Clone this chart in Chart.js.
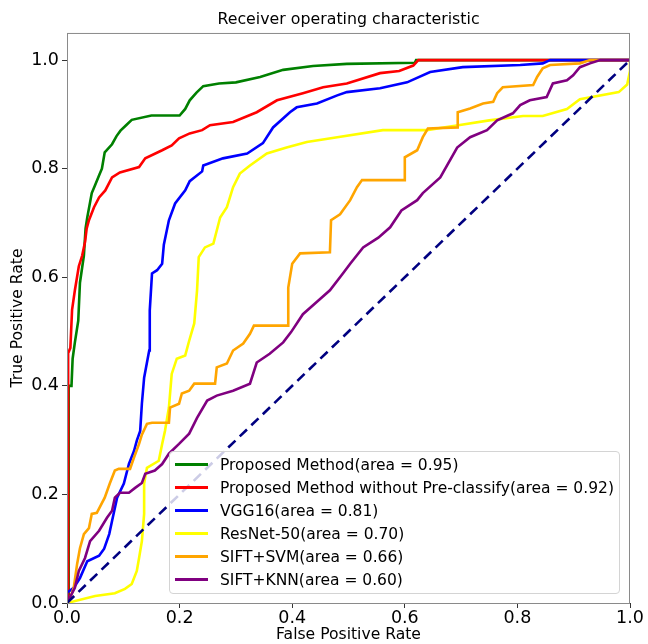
<!DOCTYPE html>
<html>
<head>
<meta charset="utf-8">
<script src="https://cdn.jsdelivr.net/npm/chart.js@4.4.1/dist/chart.umd.min.js"></script>
<style>
  body { margin: 0; background: #fff; }
  #wrap { position: relative; width: 648px; height: 644px; }
  #legend {
    position: absolute; left: 169px; top: 451px; width: 451px;
    box-sizing: border-box; padding: 1px 0 2px 0;
    border: 1px solid #d4d4d4; border-radius: 4px;
    background: rgba(255,255,255,0.8);
    font-family: "DejaVu Sans", sans-serif; font-size: 15.5px; color: #000;
    white-space: nowrap;
  }
  #legend .row { height: 23px; display: flex; align-items: center; }
  #legend .sw { width: 33px; height: 3px; margin: 0 12px 0 5px; flex: none; }
</style>
</head>
<body>
<div id="wrap">
  <canvas id="roc" width="648" height="644"></canvas>
  <div id="legend"></div>
</div>
<script>
// series names, as in the legend
var names = [
  "Proposed Method(area = 0.95)",
  "Proposed Method without Pre-classify(area = 0.92)",
  "VGG16(area = 0.81)",
  "ResNet-50(area = 0.70)",
  "SIFT+SVM(area = 0.66)",
  "SIFT+KNN(area = 0.60)"
];
var colors = ["#008000", "#ff0000", "#0000ff", "#ffff00", "#ffa500", "#800080"];

// ROC points: false positive rate / true positive rate
var fpr_proposed = [0,0.003,0.003,0.008,0.01,0.014,0.02,0.023,0.03,0.033,0.036,0.044,0.05,0.058,0.062,0.067,0.08,0.088,0.095,0.105,0.115,0.15,0.20,0.21,0.218,0.23,0.242,0.27,0.30,0.343,0.384,0.437,0.497,0.618,0.62,1];
var tpr_proposed = [0,0,0.40,0.40,0.45,0.48,0.52,0.59,0.64,0.69,0.71,0.755,0.77,0.79,0.80,0.83,0.845,0.86,0.87,0.88,0.89,0.898,0.898,0.91,0.926,0.94,0.952,0.957,0.959,0.969,0.982,0.989,0.993,0.995,1,1];

var fpr_nopre = [0,0.002,0.002,0.006,0.009,0.014,0.021,0.027,0.032,0.035,0.039,0.048,0.057,0.068,0.08,0.094,0.128,0.139,0.169,0.186,0.199,0.218,0.24,0.254,0.295,0.337,0.373,0.419,0.455,0.497,0.556,0.59,0.615,0.624,1];
var tpr_nopre = [0,0,0.46,0.47,0.54,0.576,0.62,0.64,0.665,0.69,0.705,0.729,0.747,0.76,0.784,0.793,0.803,0.819,0.834,0.843,0.856,0.865,0.871,0.88,0.886,0.904,0.926,0.939,0.95,0.957,0.976,0.98,0.99,1,1];

var fpr_vgg = [0,0,0.004,0.012,0.023,0.036,0.057,0.066,0.075,0.08,0.089,0.101,0.11,0.119,0.124,0.13,0.133,0.137,0.146,0.147,0.151,0.16,0.169,0.172,0.181,0.192,0.21,0.218,0.24,0.242,0.277,0.32,0.348,0.366,0.396,0.408,0.444,0.48,0.497,0.556,0.604,0.645,0.703,0.805,0.845,0.858,1];
var tpr_vgg = [0,0.02,0.022,0.028,0.046,0.077,0.087,0.10,0.127,0.151,0.194,0.22,0.256,0.28,0.299,0.317,0.367,0.415,0.465,0.539,0.607,0.613,0.625,0.66,0.705,0.736,0.76,0.777,0.795,0.806,0.819,0.828,0.847,0.876,0.904,0.913,0.92,0.935,0.941,0.948,0.959,0.978,0.987,0.991,0.994,1,1];

var fpr_resnet = [0,0.05,0.085,0.103,0.115,0.124,0.128,0.133,0.137,0.137,0.142,0.163,0.169,0.174,0.181,0.186,0.195,0.21,0.217,0.226,0.231,0.234,0.245,0.26,0.272,0.284,0.295,0.307,0.325,0.355,0.39,0.426,0.48,0.561,0.639,0.695,0.75,0.81,0.845,0.888,0.911,0.98,0.995,1,1];
var tpr_resnet = [0,0.013,0.018,0.026,0.035,0.059,0.083,0.114,0.164,0.22,0.249,0.262,0.293,0.317,0.36,0.422,0.45,0.456,0.483,0.515,0.576,0.637,0.655,0.662,0.71,0.729,0.766,0.791,0.806,0.828,0.839,0.849,0.858,0.871,0.871,0.88,0.889,0.897,0.897,0.91,0.928,0.941,0.955,0.98,1];

var fpr_svm = [0,0.004,0.012,0.018,0.023,0.03,0.039,0.044,0.053,0.067,0.076,0.085,0.092,0.112,0.119,0.128,0.133,0.142,0.151,0.181,0.183,0.199,0.204,0.217,0.226,0.263,0.266,0.284,0.295,0.313,0.325,0.332,0.393,0.393,0.40,0.414,0.467,0.469,0.485,0.503,0.515,0.524,0.60,0.60,0.622,0.632,0.641,0.694,0.694,0.716,0.739,0.757,0.764,0.774,0.828,0.835,0.845,0.858,0.911,0.929,1];
var tpr_svm = [0,0.004,0.028,0.072,0.101,0.127,0.138,0.164,0.166,0.194,0.22,0.244,0.247,0.247,0.268,0.293,0.31,0.33,0.332,0.332,0.36,0.367,0.386,0.391,0.404,0.404,0.434,0.441,0.465,0.478,0.496,0.511,0.511,0.581,0.625,0.644,0.646,0.705,0.716,0.742,0.766,0.779,0.779,0.821,0.834,0.858,0.874,0.876,0.904,0.911,0.92,0.923,0.939,0.95,0.954,0.969,0.985,0.991,0.994,1,1];

var fpr_knn = [0,0.014,0.021,0.032,0.041,0.057,0.071,0.08,0.085,0.094,0.11,0.121,0.133,0.139,0.156,0.169,0.181,0.199,0.217,0.231,0.249,0.266,0.295,0.325,0.337,0.36,0.384,0.398,0.419,0.444,0.467,0.49,0.503,0.526,0.553,0.574,0.594,0.622,0.632,0.663,0.693,0.716,0.746,0.764,0.792,0.805,0.822,0.852,0.863,0.888,0.899,0.911,0.929,0.947,1];
var tpr_knn = [0,0.028,0.059,0.083,0.114,0.133,0.157,0.17,0.194,0.203,0.203,0.212,0.221,0.238,0.244,0.256,0.275,0.293,0.312,0.341,0.373,0.382,0.391,0.404,0.443,0.459,0.48,0.499,0.532,0.555,0.576,0.607,0.625,0.655,0.673,0.692,0.723,0.742,0.755,0.784,0.839,0.858,0.871,0.889,0.902,0.917,0.926,0.932,0.957,0.963,0.972,0.987,0.994,1,1];

var fpr_chance = [0, 1];
var tpr_chance = [0, 1];

var tick_values = [0, 0.2, 0.4, 0.6, 0.8, 1.0];

function points(xs, ys) {
  var out = [];
  for (var i = 0; i < xs.length; i++) out.push({x: xs[i], y: ys[i]});
  return out;
}

var curves = [
  points(fpr_proposed, tpr_proposed),
  points(fpr_nopre, tpr_nopre),
  points(fpr_vgg, tpr_vgg),
  points(fpr_resnet, tpr_resnet),
  points(fpr_svm, tpr_svm),
  points(fpr_knn, tpr_knn)
];

var datasets = [];
for (var i = 0; i < curves.length; i++) {
  datasets.push({
    label: names[i],
    data: curves[i],
    borderColor: colors[i],
    borderWidth: 2.6,
    pointRadius: 0,
    fill: false,
    tension: 0,
    order: curves.length - i   // later series drawn on top, like matplotlib
  });
}
datasets.push({
  label: "chance",
  data: points(fpr_chance, tpr_chance),
  borderColor: "#000080",
  borderWidth: 2.6,
  borderDash: [10, 6],
  pointRadius: 0,
  fill: false,
  order: 0
});

// box around the plot area (matplotlib spines)
var frame = {
  id: 'frame',
  afterDatasetsDraw: function(chart) {
    var a = chart.chartArea, c = chart.ctx;
    c.save();
    c.strokeStyle = '#8a8a8a';
    c.lineWidth = 1;
    c.strokeRect(a.left + 0.5, a.top + 0.5, a.right - a.left - 1, a.bottom - a.top);
    c.restore();
  }
};

var font = "'DejaVu Sans', sans-serif";
var ctx = document.getElementById('roc').getContext('2d');
var roc = new Chart(ctx, {
  type: 'line',
  data: { datasets: datasets },
  plugins: [frame],
  options: {
    responsive: false,
    animation: false,
    layout: { padding: { left: 0, right: 18, top: 0, bottom: 0 } },
    plugins: {
      legend: { display: false },
      tooltip: { enabled: false },
      title: {
        display: true,
        fullSize: false,   // center over the plot area, not the canvas
        text: 'Receiver operating characteristic',
        color: '#000',
        font: { family: font, size: 15.8, weight: 'normal' },
        padding: { top: 10, bottom: 4 }
      }
    },
    scales: {
      x: {
        type: 'linear', min: 0, max: 1,
        afterBuildTicks: function(s) { s.ticks = tick_values.map(function(v){ return {value: v}; }); },
        afterFit: function(s) { s.height = 41; },
        ticks: { color: '#000', font: { family: font, size: 17.5 }, padding: 0, maxRotation: 0,
                 callback: function(v) { return v.toFixed(1); } },
        grid: { drawOnChartArea: false, drawTicks: true, tickLength: 5, color: '#333' },
        border: { display: false },
        title: { display: true, text: 'False Positive Rate', color: '#000',
                 font: { family: font, size: 15.6 }, padding: { top: 0, bottom: 0 } }
      },
      y: {
        type: 'linear', min: 0, max: 1.05,
        afterBuildTicks: function(s) { s.ticks = tick_values.map(function(v){ return {value: v}; }); },
        afterFit: function(s) { s.width = 67; },
        ticks: { color: '#000', font: { family: font, size: 17.5 }, padding: 3,
                 callback: function(v) { return v.toFixed(1); } },
        grid: { drawOnChartArea: false, drawTicks: true, tickLength: 5, color: '#333' },
        border: { display: false },
        title: { display: true, text: 'True Positive Rate', color: '#000',
                 font: { family: font, size: 15.6 }, padding: { top: 9, bottom: 0 } }
      }
    }
  }
});

// legend drawn as html over the lower right of the plot
var legend = document.getElementById('legend');
for (var j = 0; j < names.length; j++) {
  var row = document.createElement('div');
  row.className = 'row';
  var sw = document.createElement('span');
  sw.className = 'sw';
  sw.style.background = colors[j];
  var txt = document.createElement('span');
  txt.textContent = names[j];
  row.appendChild(sw);
  row.appendChild(txt);
  legend.appendChild(row);
}
</script>
</body>
</html>
